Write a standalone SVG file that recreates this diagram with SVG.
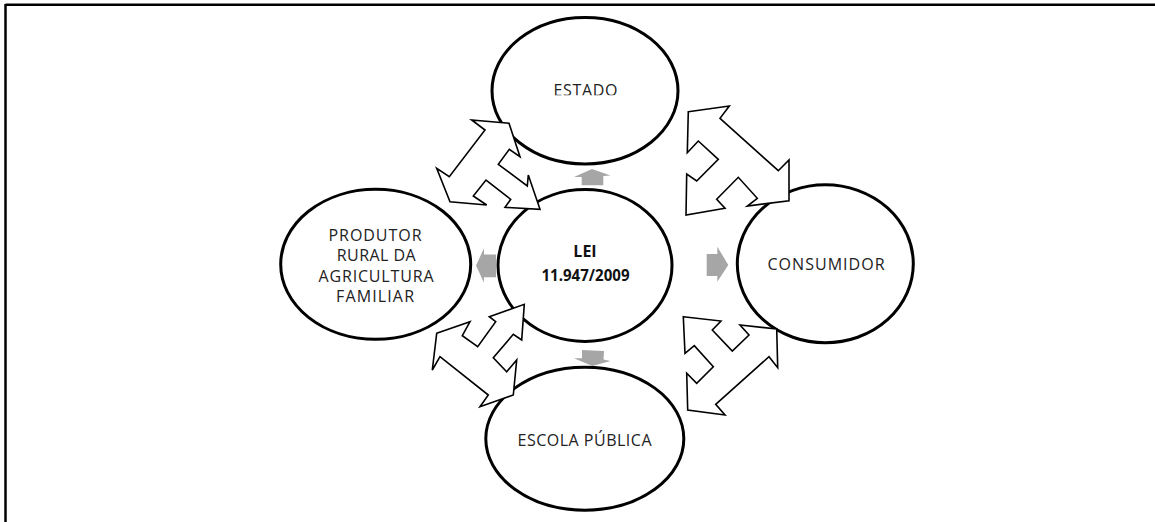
<svg xmlns="http://www.w3.org/2000/svg" width="1155" height="522" viewBox="0 0 1155 522">
<style>
.node ellipse{fill:#ffffff;stroke:#000000;stroke-width:3}
.lbl{font-family:"Open Sans","Noto Sans",sans-serif;font-size:16px;fill:#222222;text-anchor:middle}
.bold{font-weight:bold;fill:#111111}
.conn polygon.big{fill:#ffffff;stroke:#000000;stroke-width:1.6;stroke-linejoin:miter}
.conn polygon.small{fill:#a6a6a6;stroke:none}
</style>
<defs>
<clipPath id="clipEstado"><rect x="500" y="70" width="170" height="25.3"/></clipPath>
</defs>
<rect x="0" y="0" width="1155" height="522" fill="#ffffff"/>
<g id="frame" stroke="#000000" stroke-width="2.5" fill="none">
<line x1="5.5" y1="4.8" x2="1155" y2="4.8"/>
<line x1="5.5" y1="4" x2="5.5" y2="522"/>
</g>
<g id="estado" class="node">
<ellipse cx="585" cy="90.7" rx="93" ry="73.3"/>
<text class="lbl" x="585.5" y="95.8" textLength="64" lengthAdjust="spacing" clip-path="url(#clipEstado)">ESTADO</text>
</g>
<g id="lei" class="node">
<ellipse cx="585" cy="265.5" rx="87" ry="76"/>
<text class="lbl bold" x="585" y="257">LEI</text>
<text class="lbl bold" x="585.5" y="281" textLength="88" lengthAdjust="spacingAndGlyphs">11.947/2009</text>
</g>
<g id="produtor" class="node">
<ellipse cx="375.7" cy="264.3" rx="95" ry="75"/>
<text class="lbl" x="375" y="240.7" textLength="93" lengthAdjust="spacing">PRODUTOR</text>
<text class="lbl" x="376.2" y="260.7" textLength="79" lengthAdjust="spacing">RURAL DA</text>
<text class="lbl" x="376" y="281.7" textLength="115" lengthAdjust="spacing">AGRICULTURA</text>
<text class="lbl" x="375" y="301.7" textLength="78" lengthAdjust="spacing">FAMILIAR</text>
</g>
<g id="consumidor" class="node">
<ellipse cx="825.3" cy="263.8" rx="88" ry="79"/>
<text class="lbl" x="826" y="270" textLength="117" lengthAdjust="spacing">CONSUMIDOR</text>
</g>
<g id="escola" class="node">
<ellipse cx="584.8" cy="438.7" rx="99" ry="71.5"/>
<text class="lbl" x="584.5" y="445.7" textLength="134" lengthAdjust="spacing">ESCOLA PÚBLICA</text>
</g>
<g id="connectors" class="conn">
<polygon class="big" points="471.7,120 509,123.3 520,156.7 509.3,149.3 498.3,164.3 527.3,186 528.3,175 540,209.3 505,207.3 510.7,199.3 486,180 473.3,196 486.7,205 450,201.7 436.7,168.3 449.3,176.7 485,130"/>
<polygon class="big" points="688.3,111.7 729.3,106 720,118.3 778.3,170.7 789,160 789,200.7 747.3,206 757.3,198.3 738.3,177.3 716.7,199.3 725,208.3 686,215 686.7,174 696.7,181 718.3,159.3 698.3,141 687.3,152.7"/>
<polygon class="big" points="436.7,333.3 470,321.7 462.3,335.7 477.7,346.7 495.7,321.7 489.3,316.7 524.3,304.3 521.7,340 513.3,334.3 493.3,357.7 506.7,371.7 516.7,360 513.3,395 480,406.7 488.3,395 440,356.7 432.3,370"/>
<polygon class="big" points="683.3,316.7 721,321 712.3,330 732.3,351 749,335 740,325 776.7,329 777.7,367.7 769,356.7 715.7,404.3 725,415 687.7,410 686.7,373.3 696.7,383.3 713.3,366.7 694.3,345.7 685,353.3"/>
<polygon class="small" points="592,169 610.5,175.5 603.3,176 603.3,185.3 581.7,185.3 581.7,177 574,177"/>
<polygon class="small" points="582,350 604,351 603.5,359.5 610.5,361 592.3,366 574,358.3 582,358.3"/>
<polygon class="small" points="476,265.5 484,248.3 484,254.5 496,254.5 496,277.3 484,277.3 484,282.7"/>
<polygon class="small" points="706.7,254 717.3,254 717.3,246.7 728.3,265 717.3,281.7 717.3,276 706.7,276"/>
</g>
</svg>
